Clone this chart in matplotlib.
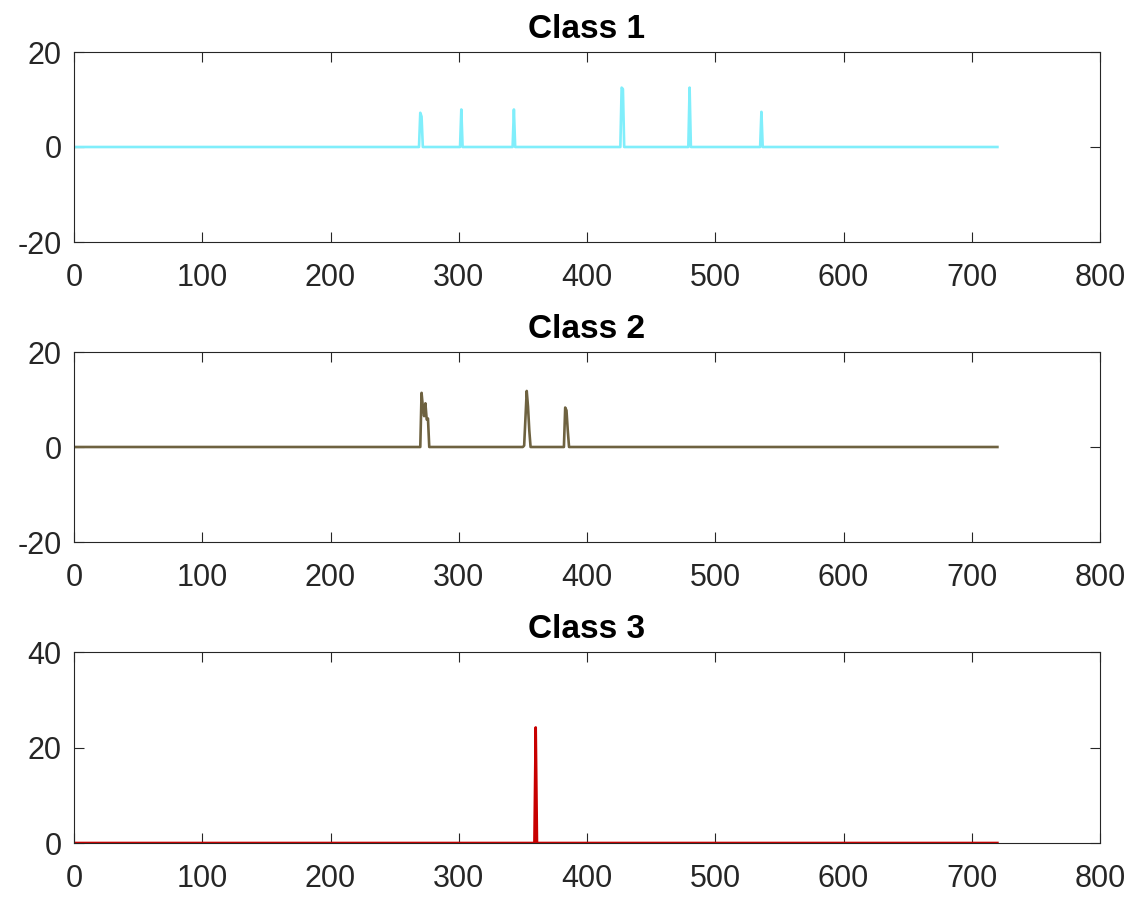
import numpy as np
import matplotlib
matplotlib.use("Agg")
import matplotlib.pyplot as plt

plt.rcParams['font.family'] = ['Liberation Sans', 'DejaVu Sans']
plt.rcParams['axes.unicode_minus'] = False

# Sample index axis
n_samples = 720
titles = ["Class 1", "Class 2", "Class 3"]
colors = ["#80EEFB", "#6E6240", "#C80000"]

# Non-zero samples of each class signal (index, value); all other samples are 0
class1_idx = [270, 271, 302, 343, 427, 428, 480, 536]
class1_val = [7.2, 6.4, 7.9, 7.9, 12.5, 12.2, 12.5, 7.4]

class2_idx = [271, 272, 273, 274, 275, 276, 351, 352, 353, 354, 355, 383, 384, 385]
class2_val = [11.4, 8.5, 6.5, 9.2, 5.8, 6.0, 0.3, 6.0, 11.8, 8.5, 3.5, 8.3, 7.7, 3.5]

class3_idx = [360]
class3_val = [24.2]

y_limits = [(-20, 20), (-20, 20), (0, 40)]
y_ticks = [[-20, 0, 20], [-20, 0, 20], [0, 20, 40]]
x_ticks = [0, 100, 200, 300, 400, 500, 600, 700, 800]

x = np.arange(1, n_samples + 1)


def build_signal(idx, val):
    y = np.zeros(n_samples)
    for i, v in zip(idx, val):
        y[i - 1] = v
    return y


signals = [build_signal(class1_idx, class1_val),
           build_signal(class2_idx, class2_val),
           build_signal(class3_idx, class3_val)]

fig = plt.figure(figsize=(11.47, 8.97), dpi=100)
left, width = 74 / 1147, (1100 - 74) / 1147
tops = [52, 352, 652]
bottoms = [242, 542, 843]

for k in range(3):
    b = 1 - bottoms[k] / 897
    h = (bottoms[k] - tops[k]) / 897
    ax = fig.add_axes([left, b, width, h])
    ax.plot(x, signals[k], color=colors[k], linewidth=1.9)
    ax.set_xlim(0, 800)
    ax.set_ylim(*y_limits[k])
    ax.set_xticks(x_ticks)
    ax.set_yticks(y_ticks[k])
    ax.tick_params(direction='in', length=7, width=0.8, labelsize=22,
                   top=True, right=True, colors='#262626', labelcolor='#262626')
    ax.tick_params(axis='x', pad=15)
    ax.tick_params(axis='y', pad=9)
    for s in ax.spines.values():
        s.set_color('#262626')
        s.set_linewidth(0.8)
    ax.set_title(titles[k], fontsize=24, fontweight='bold', pad=10)

fig.savefig("out.png", dpi=100, facecolor='white')
